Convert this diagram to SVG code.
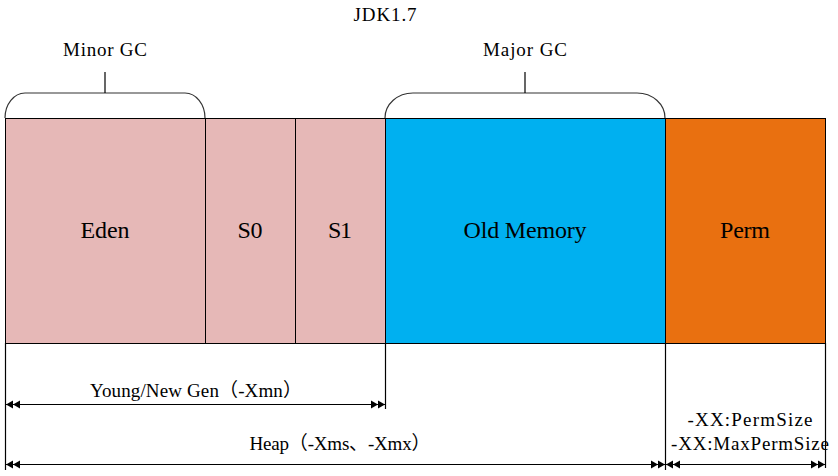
<svg xmlns="http://www.w3.org/2000/svg" width="838" height="476" viewBox="0 0 838 476">
<style>
.box{stroke:#000;stroke-width:1}
.big{font-family:"Liberation Serif","Noto Sans CJK SC",serif;font-size:24px;fill:#000;text-anchor:middle}
.sm{font-family:"Liberation Serif","Noto Sans CJK SC",serif;font-size:19px;fill:#000;text-anchor:middle}
.ln{stroke:#000;stroke-width:1.2;fill:none}
.br{stroke:#333;stroke-width:1.2;fill:none}
</style>
<defs>
<marker id="dbl" viewBox="-15 -5 16 10" refX="0" refY="0" markerWidth="16" markerHeight="10" markerUnits="userSpaceOnUse" orient="auto-start-reverse">
<path d="M0,0 L-7,-4 L-7,4 Z M-7,0 L-14,-4 L-14,4 Z" fill="#000"/>
</marker>
</defs>
<rect width="838" height="476" fill="#fff"/>
<text class="sm" x="385" y="21" textLength="63" lengthAdjust="spacing">JDK1.7</text>
<g id="minor-gc">
<path class="br" d="M5,118 A20,25 0 0 1 25,93 H185 A20,25 0 0 1 205,118"/>
<line class="ln" x1="105" y1="72" x2="105" y2="93"/>
<text class="sm" x="105" y="56" textLength="84" lengthAdjust="spacing">Minor GC</text>
</g>
<g id="major-gc">
<path class="br" d="M385,118 A28,25 0 0 1 413,93 H637 A28,25 0 0 1 665,118"/>
<line class="ln" x1="525" y1="72" x2="525" y2="93"/>
<text class="sm" x="525" y="56" textLength="84" lengthAdjust="spacing">Major GC</text>
</g>
<g id="eden"><rect class="box" x="5.5" y="118.5" width="200" height="225" fill="#E6B8B7"/><text class="big" x="105" y="238" textLength="49" lengthAdjust="spacing">Eden</text></g>
<g id="s0"><rect class="box" x="205.5" y="118.5" width="90" height="225" fill="#E6B8B7"/><text class="big" x="250" y="238" textLength="25" lengthAdjust="spacing">S0</text></g>
<g id="s1"><rect class="box" x="295.5" y="118.5" width="90" height="225" fill="#E6B8B7"/><text class="big" x="340" y="238" textLength="24" lengthAdjust="spacing">S1</text></g>
<g id="old"><rect class="box" x="385.5" y="118.5" width="280" height="225" fill="#00B0F0"/><text class="big" x="525" y="238" textLength="123" lengthAdjust="spacing">Old Memory</text></g>
<g id="perm"><rect class="box" x="665.5" y="118.5" width="160" height="225" fill="#E97010"/><text class="big" x="745" y="238" textLength="50" lengthAdjust="spacing">Perm</text></g>
<g id="connectors">
<line class="ln" x1="5.5" y1="343" x2="5.5" y2="470"/>
<line class="ln" x1="385.5" y1="343" x2="385.5" y2="409"/>
<line class="ln" x1="665.5" y1="343" x2="665.5" y2="470"/>
<line class="ln" x1="825.5" y1="343" x2="825.5" y2="468"/>
<line class="ln" x1="6" y1="404.5" x2="385" y2="404.5" marker-start="url(#dbl)" marker-end="url(#dbl)"/>
<line class="ln" x1="6" y1="464.5" x2="665" y2="464.5" marker-start="url(#dbl)" marker-end="url(#dbl)"/>
<line class="ln" x1="666" y1="464.5" x2="825" y2="464.5" marker-start="url(#dbl)" marker-end="url(#dbl)"/>
</g>
<g id="labels">
<text class="sm" x="196" y="397" textLength="212" lengthAdjust="spacing">Young/New Gen（-Xmn）</text>
<text class="sm" x="340" y="450" textLength="181" lengthAdjust="spacing">Heap（-Xms、-Xmx）</text>
<text class="sm" x="750" y="426" textLength="125" lengthAdjust="spacing">-XX:PermSize</text>
<text class="sm" x="750" y="450" textLength="158" lengthAdjust="spacing">-XX:MaxPermSize</text>
</g>
</svg>
